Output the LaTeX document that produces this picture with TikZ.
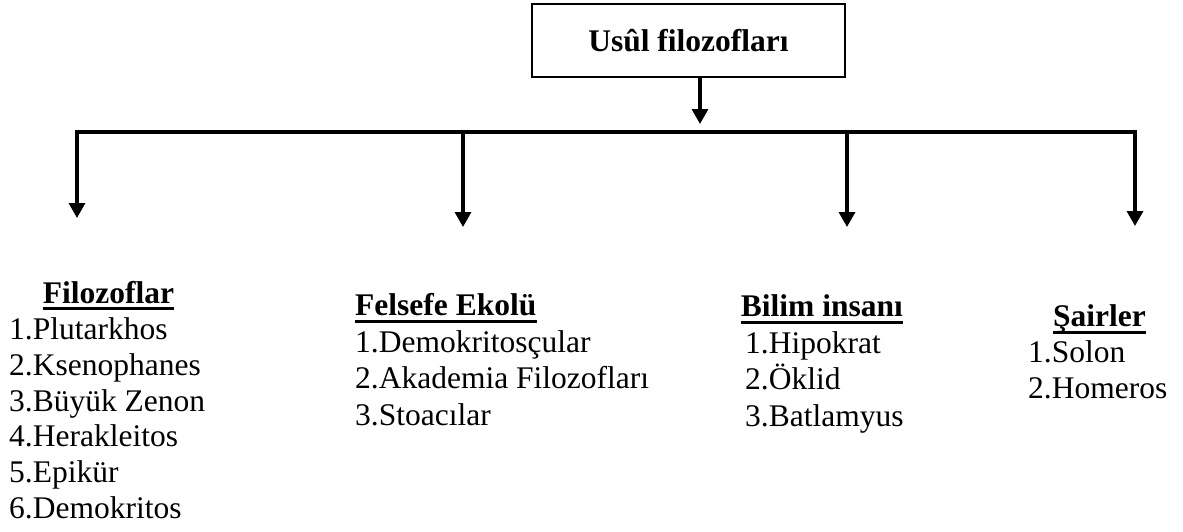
\documentclass[tikz,border=0pt]{standalone}
\usepackage{fontspec}
\setmainfont{Liberation Serif}
\usetikzlibrary{arrows.meta}
\begin{document}
\begin{tikzpicture}[x=1pt,y=-1pt,
  txt/.style={inner sep=0pt,font=\fontsize{31.5}{36}\selectfont},
  head/.style={inner sep=0pt,font=\fontsize{31.5}{36}\selectfont\bfseries},
  conn/.style={line width=3.3pt,line join=miter},
  tip/.style={-{Triangle[width=16pt,length=15pt]}},
  ul/.style={line width=3pt}]
\useasboundingbox (0,0) rectangle (1183,531);
% top box
\node[draw,line width=2.3pt,minimum width=313pt,minimum height=73pt,inner sep=0pt,
      font=\fontsize{31.5}{36}\selectfont\bfseries] (top) at (688.5,40.5) {Usûl filozofları};
% connectors
\coordinate (j) at (700,132);
\coordinate (jt) at (700,124);
\coordinate (L) at (77,132);
\coordinate (R) at (1135,132);
\coordinate (aL) at (77,218);
\coordinate (aR) at (1135,226);
\coordinate (m1) at (463,132);
\coordinate (a1) at (463,227);
\coordinate (m2) at (847,132);
\coordinate (a2) at (847,227);
\draw[conn,tip] (j |- top.south) -- (jt);
\draw[conn,{Triangle[width=16pt,length=15pt]}-{Triangle[width=16pt,length=15pt]}] (aL) -- (L) -- (R) -- (aR);
\draw[conn,tip] (m1) -- (a1);
\draw[conn,tip] (m2) -- (a2);
% Filozoflar
\node[head,anchor=base] (h1) at (108.5,303) {Filozoflar};
\draw[ul] ([yshift=-5pt]h1.base west) -- ([yshift=-5pt]h1.base east);
\node[txt,anchor=base west] (f1) at (9,339) {1.Plutarkhos};
\node[txt,anchor=base west] (f2) at (9,375) {2.Ksenophanes};
\node[txt,anchor=base west] (f3) at (9,411) {3.Büyük Zenon};
\node[txt,anchor=base west] (f4) at (9,446) {4.Herakleitos};
\node[txt,anchor=base west] (f5) at (9,482) {5.Epikür};
\node[txt,anchor=base west] (f6) at (9,518) {6.Demokritos};
% Felsefe Ekolu
\node[head,anchor=base west] (h2) at (355,315) {Felsefe Ekolü};
\draw[ul] ([yshift=-6pt]h2.base west) -- ([yshift=-6pt]h2.base east);
\node[txt,anchor=base west] (e1) at (355,352) {1.Demokritosçular};
\node[txt,anchor=base west] (e2) at (355,388.5) {2.Akademia Filozofları};
\node[txt,anchor=base west] (e3) at (355,425) {3.Stoacılar};
% Bilim insani
\node[head,anchor=base east] (h3) at (903,316) {Bilim insanı};
\draw[ul] ([yshift=-6pt]h3.base west) -- ([yshift=-6pt]h3.base east);
\node[txt,anchor=base west] (b1) at (745,353) {1.Hipokrat};
\node[txt,anchor=base west] (b2) at (745,389.5) {2.Öklid};
\node[txt,anchor=base west] (b3) at (745,426) {3.Batlamyus};
% Sairler
\node[head,anchor=base west] (h4) at (1053,326) {Şairler};
\draw[ul] ([yshift=-6pt]h4.base west) -- ([yshift=-6pt]h4.base east);
\node[txt,anchor=base west] (s1) at (1028,362) {1.Solon};
\node[txt,anchor=base west] (s2) at (1028,398) {2.Homeros};
\end{tikzpicture}
\end{document}
